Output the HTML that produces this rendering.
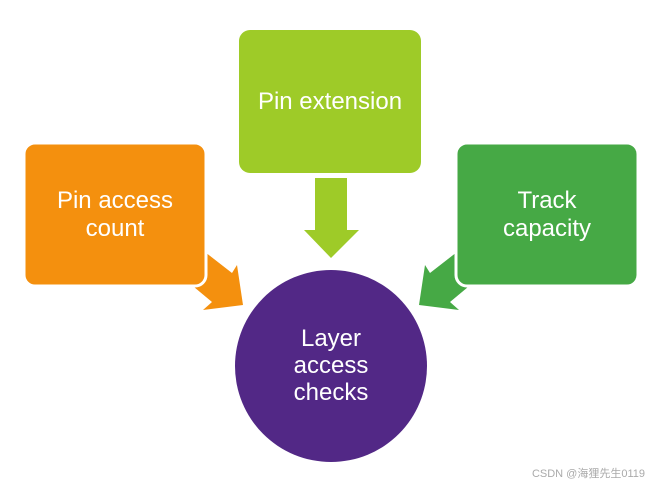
<!DOCTYPE html>
<html><head><style>
body{margin:0;background:#fff;width:658px;height:490px;overflow:hidden}
</style></head><body>
<svg width="658" height="490" xmlns="http://www.w3.org/2000/svg" font-family="Liberation Sans, sans-serif">
<polygon points="205,252 232,273 237,265 243,305 203,310 212,302 188,282" fill="#F4900E"/>
<polygon points="457,252 430,273 425,265 419,305 459,310 450,302 474,282" fill="#46A945"/>
<rect x="24" y="143" width="182" height="143" rx="11" fill="#F4900E" stroke="#fff" stroke-width="3"/>
<rect x="239" y="30" width="182" height="143" rx="11" fill="#9ECB28"/>
<rect x="456" y="143" width="182" height="143" rx="11" fill="#46A945" stroke="#fff" stroke-width="3"/>
<polygon points="315,178 347,178 347,230 359,230 331,258 304,230 315,230" fill="#9ECB28"/>
<circle cx="331" cy="366" r="96" fill="#522886"/>
<g fill="#fff" font-size="24" text-anchor="middle">
<text x="115" y="208">Pin access</text>
<text x="115" y="236">count</text>
<text x="330" y="109">Pin extension</text>
<text x="547" y="208">Track</text>
<text x="547" y="236">capacity</text>
<text x="331" y="346">Layer</text>
<text x="331" y="373">access</text>
<text x="331" y="400">checks</text>
</g>
<text x="645" y="477" font-size="11" fill="#aaa" text-anchor="end" font-family="Liberation Sans, Noto Sans CJK SC, sans-serif">CSDN @海狸先生0119</text>
</svg>
</body></html>
